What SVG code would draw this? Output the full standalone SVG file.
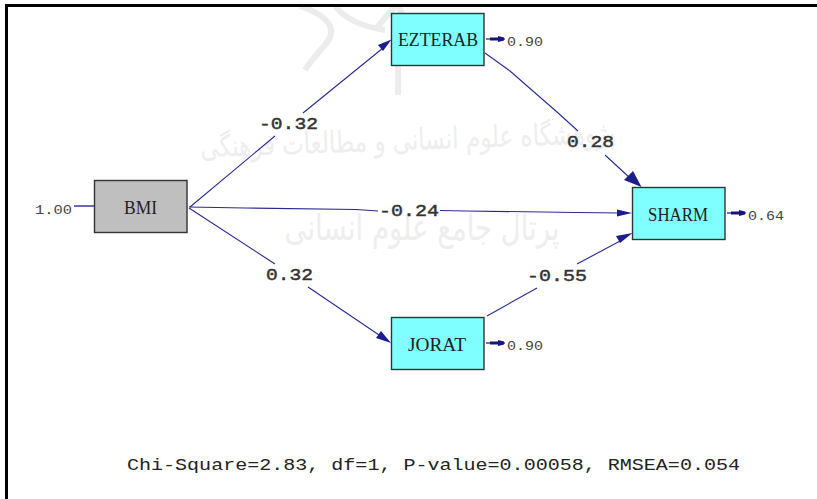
<svg xmlns="http://www.w3.org/2000/svg" width="817" height="499" viewBox="0 0 817 499">
<style>
.edge{fill:none;stroke:#2a2a90;stroke-width:1.1}
.head{fill:#1c1c8c;stroke:none}
.err{fill:none;stroke:#16167f;stroke-width:1.2}
.errh{fill:#14147f;stroke:none}
.box{stroke:#333;stroke-width:1.4}
.nt{font-family:"Liberation Serif",serif;font-size:18px;fill:#222}
.el{font-family:"Liberation Mono",monospace;font-size:17px;fill:#333;stroke:#333;stroke-width:.45}
.sm{font-family:"Liberation Mono",monospace;font-size:13px;fill:#444}
.wm{font-family:"DejaVu Sans",sans-serif;fill:#eeeeee}
</style>
<rect width="817" height="499" fill="#fff"/>
<g id="watermark">
<path d="M300 6Q345 22 325 45Q310 62 305 70M335 6Q350 25 385 30M395 6L375 30M398 6Q410 30 425 40M398 65V95" fill="none" stroke="#ececec" stroke-width="6"/>
<text class="wm" x="408" y="150" font-size="30" text-anchor="middle" direction="rtl" textLength="415" lengthAdjust="spacingAndGlyphs" transform="rotate(-2 408 150)">پژوهشگاه علوم انسانی و مطالعات فرهنگی</text>
<text class="wm" x="422" y="240" font-size="36" text-anchor="middle" direction="rtl" textLength="275" lengthAdjust="spacingAndGlyphs">پرتال جامع علوم انسانی</text>
</g>
<path d="M6.500 499V5.500H817" fill="none" stroke="#000" stroke-width="3"/>
<g id="connectors">
<path class="edge" d="M190 207L275 136M303 113L383 48"/>
<path class="head" d="M391.500 39.500L383 51L378 45Z"/>
<path class="edge" d="M189 207L245 208L356 209.500L378 211M440 210.500L466 211L577 212.500L620 213"/>
<path class="head" d="M632 213L617 216.500V209.500Z"/>
<path class="edge" d="M189 208L275 264M308 287L382 337"/>
<path class="head" d="M391 343L376 338L381 331Z"/>
<path class="edge" d="M485 53L510 71L557 112L578 131M605 155L630 178"/>
<path class="head" d="M641.500 187L624 180L633 171Z"/>
<path class="edge" d="M487 316L537 288M577 264L622 240"/>
<path class="head" d="M632.500 233L620 243L616 236Z"/>
<path class="edge" d="M74 206H94" style="stroke-width:1.4"/>
<path class="err" d="M486 39H505"/><path class="errh" d="M490 37.500H498V36L504 37.500V40.500L498 42V40.500H490Z"/>
<path class="err" d="M727 213H746"/><path class="errh" d="M731 211.500H739V210L745 211.500V214.500L739 216V214.500H731Z"/>
<path class="err" d="M486 343H505"/><path class="errh" d="M490 341.500H498V340L504 341.500V344.500L498 346V344.500H490Z"/>
</g>
<g id="node-bmi">
<rect class="box" x="94.500" y="180.500" width="92.500" height="52" fill="#bfbfbf"/>
<text class="nt" x="124" y="214" textLength="33" lengthAdjust="spacingAndGlyphs">BMI</text>
</g>
<g id="node-ezterab">
<rect class="box" x="391.500" y="13.500" width="92.500" height="52" fill="#7fffff"/>
<text class="nt" x="398" y="46" textLength="80" lengthAdjust="spacingAndGlyphs">EZTERAB</text>
</g>
<g id="node-sharm">
<rect class="box" x="632.500" y="187.500" width="92.500" height="52" fill="#7fffff"/>
<text class="nt" x="648" y="221" textLength="60" lengthAdjust="spacingAndGlyphs">SHARM</text>
</g>
<g id="node-jorat">
<rect class="box" x="391.500" y="317.500" width="92.500" height="52" fill="#7fffff"/>
<text class="nt" x="408" y="351" textLength="58" lengthAdjust="spacingAndGlyphs">JORAT</text>
</g>
<g id="labels">
<text class="el" x="259" y="129" textLength="59" lengthAdjust="spacingAndGlyphs">-0.32</text>
<text class="el" x="379" y="216" textLength="60" lengthAdjust="spacingAndGlyphs">-0.24</text>
<text class="el" x="567" y="147" textLength="47" lengthAdjust="spacingAndGlyphs">0.28</text>
<text class="el" x="266" y="280" textLength="47" lengthAdjust="spacingAndGlyphs">0.32</text>
<text class="el" x="527" y="281" textLength="60" lengthAdjust="spacingAndGlyphs">-0.55</text>
<text class="sm" x="35" y="214" textLength="37" lengthAdjust="spacingAndGlyphs">1.00</text>
<text class="sm" x="507" y="46" textLength="36" lengthAdjust="spacingAndGlyphs">0.90</text>
<text class="sm" x="748" y="220" textLength="36" lengthAdjust="spacingAndGlyphs">0.64</text>
<text class="sm" x="507" y="350" textLength="36" lengthAdjust="spacingAndGlyphs">0.90</text>
<text x="127" y="470" font-family="Liberation Mono,monospace" font-size="16" fill="#222" textLength="613" lengthAdjust="spacingAndGlyphs">Chi-Square=2.83, df=1, P-value=0.00058, RMSEA=0.054</text>
</g>
</svg>
